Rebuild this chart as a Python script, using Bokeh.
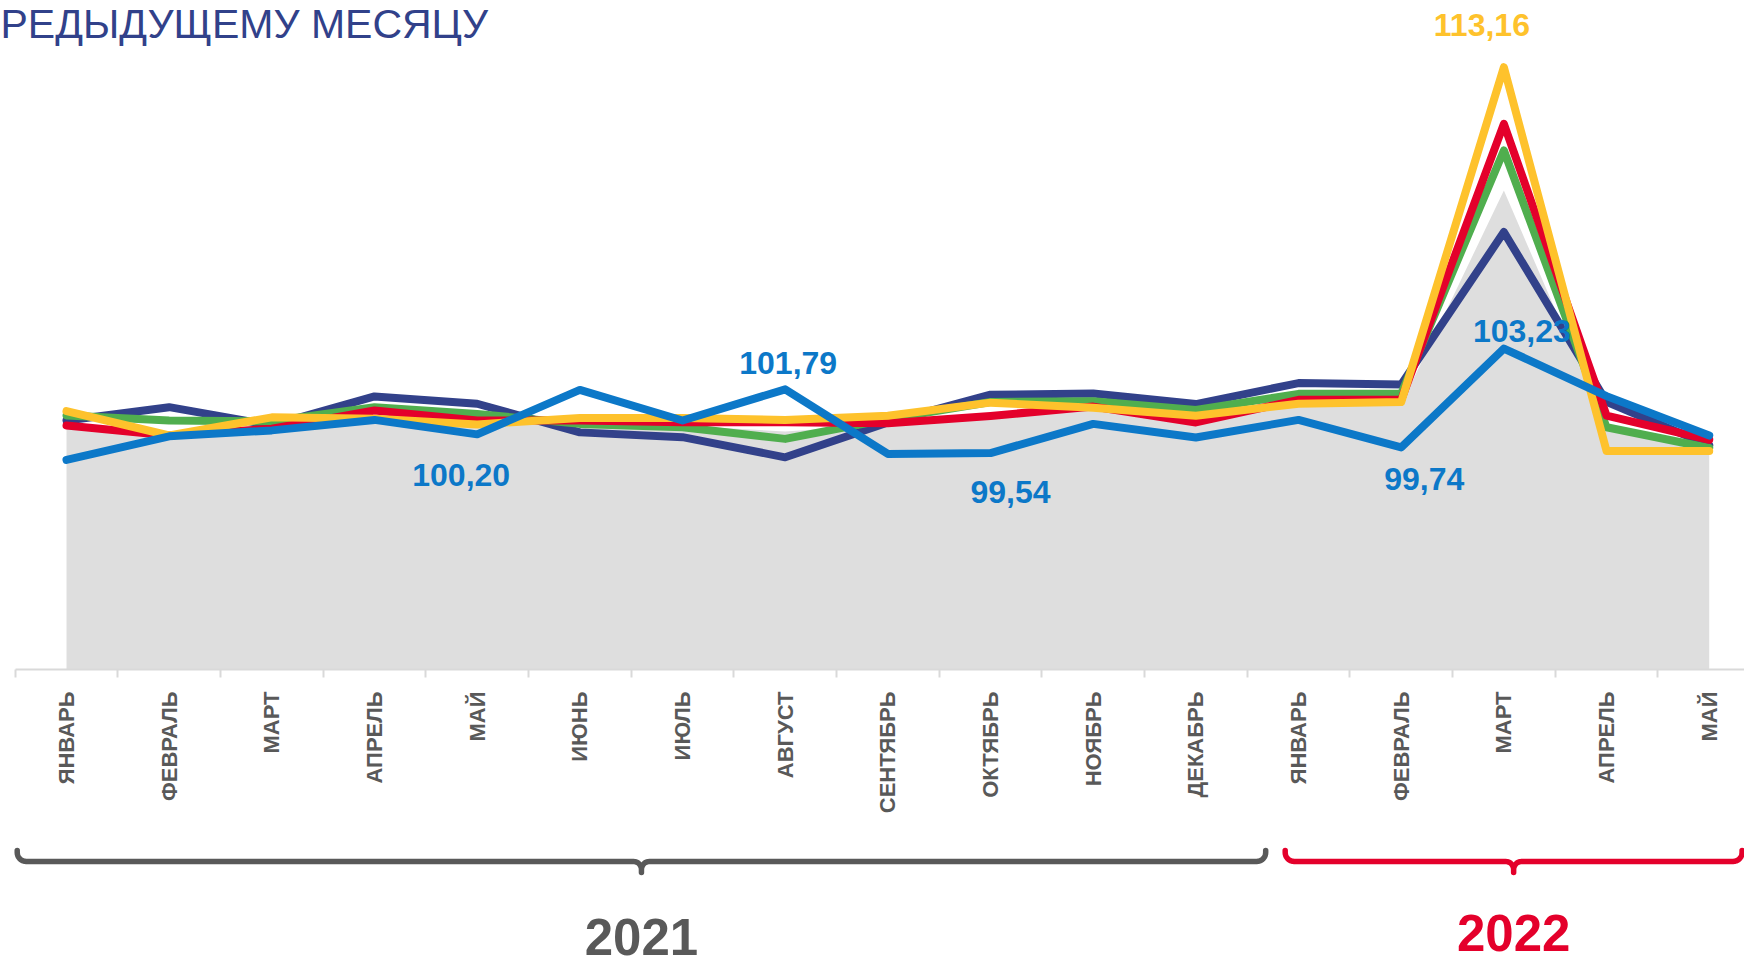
import numpy as np
from bokeh.plotting import figure
from bokeh.models import Range1d, FixedTicker
from bokeh.core.properties import value
from bokeh.embed import file_html
from bokeh.resources import INLINE

# ---------------- data ----------------
MONTHS = ["ЯНВАРЬ", "ФЕВРАЛЬ", "МАРТ", "АПРЕЛЬ", "МАЙ", "ИЮНЬ", "ИЮЛЬ", "АВГУСТ",
          "СЕНТЯБРЬ", "ОКТЯБРЬ", "НОЯБРЬ", "ДЕКАБРЬ",
          "ЯНВАРЬ", "ФЕВРАЛЬ", "МАРТ", "АПРЕЛЬ", "МАЙ"]
YEARS = ["2021", "2022"]
YEAR_SPANS = [(-0.48, 11.68), (11.87, 16.32)]
TITLE = "РЕДЫДУЩЕМУ МЕСЯЦУ"

GRAY = [100.41, 100.20, 100.45, 100.90, 100.70, 100.55, 100.50, 100.30, 100.55,
        100.90, 101.20, 100.85, 101.20, 101.25, 108.81, 100.40, 99.55]
NAVY = [100.69, 101.16, 100.52, 101.54, 101.28, 100.27, 100.10, 99.39, 100.62,
        101.60, 101.64, 101.27, 102.01, 101.96, 107.34, 101.35, 99.81]
GREEN = [100.87, 100.69, 100.66, 101.16, 100.92, 100.57, 100.45, 100.04, 100.74,
         101.34, 101.37, 101.06, 101.63, 101.63, 110.22, 100.45, 99.72]
RED = [100.51, 100.16, 100.40, 101.04, 100.69, 100.69, 100.63, 100.63, 100.59,
       100.85, 101.18, 100.62, 101.42, 101.42, 111.16, 100.86, 100.01]
YELLOW = [101.02, 100.16, 100.80, 100.75, 100.55, 100.78, 100.78, 100.71, 100.86,
          101.32, 101.14, 100.86, 101.28, 101.34, 113.16, 99.61, 99.61]
BLUE = [99.30, 100.13, 100.34, 100.71, 100.20, 101.77, 100.69, 101.79, 99.51,
        99.54, 100.57, 100.09, 100.71, 99.74, 103.23, 101.55, 100.16]

BLUE_LABELED = [4, 7, 9, 13, 14]
YELLOW_LABELED = [14]

# ---------------- layout / style ----------------
W, H = 1744, 967
PX_X = 102.67            # pixels per category
LEFT_PX = 66             # first category centre from left edge
PX_Y = 28.33             # pixels per index point
BASE = 91.9              # value axis minimum
BASE_PX = 669            # baseline distance from top of figure

C_NAVY, C_GREEN, C_RED, C_YELLOW, C_BLUE = "#32418A", "#50AE4E", "#E4002B", "#FEC22C", "#0C78C8"
C_GRAY = "#DEDEDE"
C_TEXT = "#595959"
FONT = "Liberation Sans"

x_start = -LEFT_PX / PX_X
x_end = x_start + W / PX_X
y_end = BASE + BASE_PX / PX_Y
y_start = BASE - (H - BASE_PX) / PX_Y

p = figure(width=W, height=H, x_range=Range1d(x_start, x_end), y_range=Range1d(y_start, y_end),
           output_backend="svg", toolbar_location=None, y_axis_location=None,
           min_border=0, outline_line_color=None, background_fill_color="white",
           border_fill_color="white")
p.extra_y_ranges = {"px": Range1d(start=H, end=0)}
p.grid.visible = False

idx = list(range(len(MONTHS)))

# gray area
p.varea(x=idx, y1=[BASE] * len(idx), y2=GRAY, fill_color=C_GRAY)

for series, col in [(NAVY, C_NAVY), (GREEN, C_GREEN), (RED, C_RED), (YELLOW, C_YELLOW), (BLUE, C_BLUE)]:
    p.line(x=idx, y=series, line_color=col, line_width=8, line_join="round", line_cap="round")

# x axis at the baseline
ax = p.xaxis[0]
ax.fixed_location = BASE
ax.ticker = FixedTicker(ticks=idx, minor_ticks=[i - 0.5 for i in range(len(idx) + 1)])
ax.major_label_overrides = {i: m for i, m in enumerate(MONTHS)}
ax.major_label_orientation = np.pi / 2
ax.major_label_text_font = FONT
ax.major_label_text_font_style = "bold"
ax.major_label_text_font_size = "22px"
ax.major_label_text_color = C_TEXT
ax.major_label_standoff = 14
ax.major_tick_out = 0
ax.major_tick_in = 0
ax.major_tick_line_color = None
ax.minor_tick_out = 8
ax.minor_tick_in = 0
ax.minor_tick_line_color = "#D9D9D9"
ax.minor_tick_line_width = 2
ax.axis_line_color = "#D9D9D9"
ax.axis_line_width = 2
ax.bounds = (-0.5, len(idx) - 0.5)


def fmt(v):
    return f"{v:.2f}".replace(".", ",")


# data labels
bx = BLUE_LABELED
p.text(x=bx, y=[BLUE[i] for i in bx], text=[fmt(BLUE[i]) for i in bx],
       x_offset=[-16, 3, 20, 23, 18], y_offset=[41, -26, 39, 32, -18],
       text_align="center", text_baseline="middle", text_color=C_BLUE,
       text_font=value(FONT), text_font_style="bold", text_font_size="32px")
yx = YELLOW_LABELED
p.text(x=yx, y=[YELLOW[i] for i in yx], text=[fmt(YELLOW[i]) for i in yx],
       x_offset=[-22], y_offset=[-42],
       text_align="center", text_baseline="middle", text_color=C_YELLOW,
       text_font=value(FONT), text_font_style="bold", text_font_size="32px")

# title fragment
p.text(x=[x_start], y=[23], text=[TITLE], y_range_name="px", text_align="left",
       text_baseline="middle", text_color="#31418A", text_font=value(FONT),
       text_font_size="41px")


# year braces
def brace(x0, x1, ybar=861, rise=11, r_end=9, tip=11, r_mid=8):
    X0, X1 = x0 * PX_X, x1 * PX_X
    XM = (X0 + X1) / 2
    pts = [(X0, ybar - rise)]
    c = (X0 + r_end, ybar - r_end)
    for t in np.linspace(np.pi, np.pi / 2, 10):
        pts.append((c[0] + r_end * np.cos(t), c[1] + r_end * np.sin(t)))
    c = (XM - r_mid, ybar + r_mid)
    for t in np.linspace(-np.pi / 2, 0, 10):
        pts.append((c[0] + r_mid * np.cos(t), c[1] + r_mid * np.sin(t)))
    pts.append((XM, ybar + tip))
    c = (XM + r_mid, ybar + r_mid)
    for t in np.linspace(np.pi, 1.5 * np.pi, 10):
        pts.append((c[0] + r_mid * np.cos(t), c[1] + r_mid * np.sin(t)))
    c = (X1 - r_end, ybar - r_end)
    for t in np.linspace(np.pi / 2, 0, 10):
        pts.append((c[0] + r_end * np.cos(t), c[1] + r_end * np.sin(t)))
    pts.append((X1, ybar - rise))
    xs = [q[0] / PX_X for q in pts]
    ys = [q[1] for q in pts]
    return xs, ys


for (a, b), col in zip(YEAR_SPANS, [C_TEXT, C_RED]):
    xs, ys = brace(a, b)
    p.line(x=xs, y=ys, y_range_name="px", line_color=col, line_width=5.5,
           line_join="round", line_cap="round")

p.text(x=[(a + b) / 2 for a, b in YEAR_SPANS], y=[936, 932], text=YEARS, y_range_name="px",
       text_align="center", text_baseline="middle", text_color=[C_TEXT, C_RED],
       text_font=value(FONT), text_font_style="bold", text_font_size="51px")

open("out.html", "w").write(file_html(p, INLINE))
